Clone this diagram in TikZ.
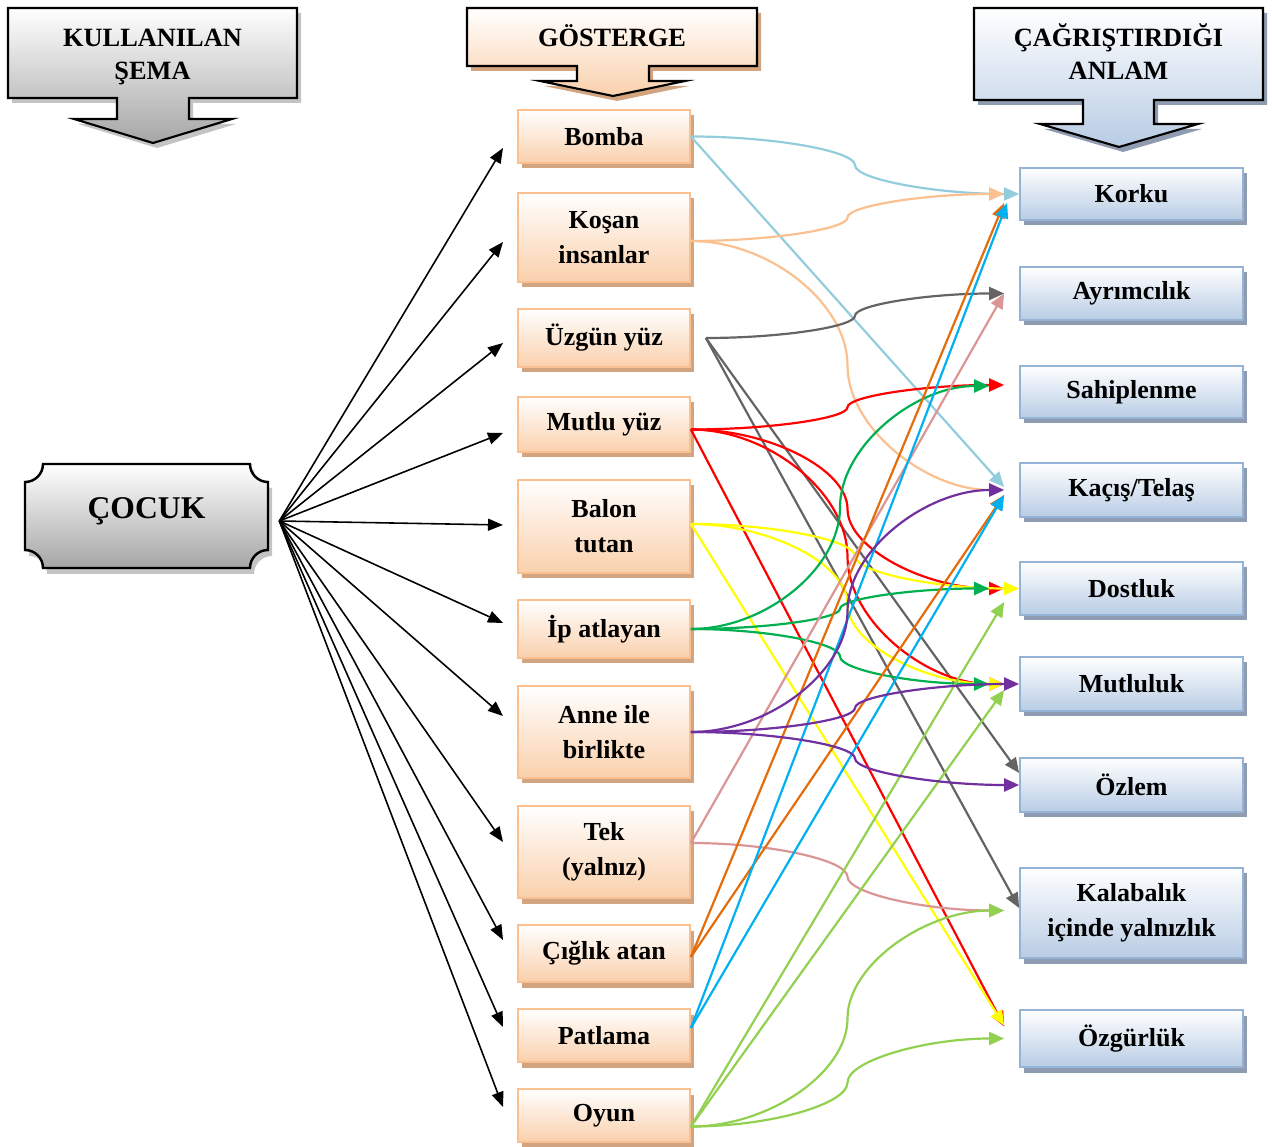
\documentclass[tikz,border=0pt]{standalone}
\usepackage{fontspec}
\setmainfont{Liberation Serif}
\usetikzlibrary{arrows.meta,calc,shadows}

\definecolor{signline}{HTML}{FAC090}
\definecolor{signfill}{HTML}{FAD0AC}
\definecolor{signshade}{HTML}{D2A47F}
\definecolor{meanline}{HTML}{95B3D7}
\definecolor{meanfill}{HTML}{B8CCE4}
\definecolor{meanshade}{HTML}{8E9BB0}
\definecolor{cocukfill}{HTML}{A6A6A6}
\definecolor{cocukshade}{HTML}{C4C4C4}
\definecolor{clBlue}{HTML}{93CDDD}
\definecolor{clPeach}{HTML}{FAC090}
\definecolor{clGrey}{HTML}{646464}
\definecolor{clRed}{HTML}{FF0000}
\definecolor{clYellow}{HTML}{FFFF00}
\definecolor{clGreen}{HTML}{00B050}
\definecolor{clPurple}{HTML}{7030A0}
\definecolor{clRose}{HTML}{D99694}
\definecolor{clOrange}{HTML}{E46C0A}
\definecolor{clCyan}{HTML}{00B0F0}
\definecolor{clLime}{HTML}{92D050}

\begin{document}
\begin{tikzpicture}[
    sign/.style={draw=signline, line width=1pt, top color=white, bottom color=signfill,
      drop shadow={shadow xshift=0.07cm, shadow yshift=-0.11cm, fill=signshade, opacity=1},
      minimum width=3.44cm, inner sep=0pt, align=center,
      font=\bfseries\fontsize{14.8}{19.8}\selectfont},
    mean/.style={draw=meanline, line width=1pt, top color=white, bottom color=meanfill,
      drop shadow={shadow xshift=0.07cm, shadow yshift=-0.11cm, fill=meanshade, opacity=1},
      minimum width=4.46cm, inner sep=0pt, align=center,
      font=\bfseries\fontsize{14.8}{19.8}\selectfont},
    head/.style={align=center, inner sep=0pt, font=\bfseries\fontsize{15}{18.7}\selectfont},
    blk/.style={line width=0.9pt, -{Triangle[length=0.3cm, width=0.24cm]}},
    lnk/.style={line width=1.25pt, -{Triangle[length=0.3cm, width=0.26cm]}},
    bend3/.style={to path={let \p1=(\tikztostart), \p2=(\tikztotarget) in
      .. controls ({0.75*\x1+0.25*\x2},\y1) and ({0.5*\x1+0.5*\x2},{0.75*\y1+0.25*\y2})
      .. ({0.5*\x1+0.5*\x2},{0.5*\y1+0.5*\y2})
      .. controls ({0.5*\x1+0.5*\x2},{0.25*\y1+0.75*\y2}) and ({0.25*\x1+0.75*\x2},\y2)
      .. (\p2)}}
  ]
\useasboundingbox (0,0) rectangle (25.44,22.92);

% headers
\path[draw, line width=1.2pt, top color=white, bottom color=cocukfill,
  drop shadow={shadow xshift=0.08cm, shadow yshift=-0.1cm, fill=cocukshade, opacity=1}]
  (0.16,22.76) -- (5.94,22.76) -- (5.94,20.96) -- (3.78,20.96) -- (3.78,20.54)
  -- (4.64,20.54) -- (3.06,20.06) -- (1.48,20.54) -- (2.34,20.54) -- (2.34,20.96)
  -- (0.16,20.96) -- cycle; % schema arrow
\node[head] (schema) at (3.05,21.78) {KULLANILAN\\ŞEMA};
\path[draw, line width=1.2pt, top color=white, bottom color=signfill,
  drop shadow={shadow xshift=0.08cm, shadow yshift=-0.1cm, fill=signshade, opacity=1}]
  (9.34,22.76) -- (15.14,22.76) -- (15.14,21.6) -- (12.98,21.6) -- (12.98,21.3)
  -- (13.7,21.3) -- (12.26,21.0) -- (10.8,21.3) -- (11.54,21.3) -- (11.54,21.6)
  -- (9.34,21.6) -- cycle; % sign arrow
\node[head] (gosterge) at (12.24,22.2) {GÖSTERGE};
\path[draw, line width=1.2pt, top color=white, bottom color=meanfill,
  drop shadow={shadow xshift=0.08cm, shadow yshift=-0.1cm, fill=meanshade, opacity=1}]
  (19.48,22.76) -- (25.26,22.76) -- (25.26,20.92) -- (23.08,20.92) -- (23.08,20.44)
  -- (23.96,20.44) -- (22.38,19.98) -- (20.8,20.44) -- (21.66,20.44) -- (21.66,20.92)
  -- (19.48,20.92) -- cycle; % meaning arrow
\node[head] (anlam) at (22.37,21.88) {ÇAĞRIŞTIRDIĞI\\ANLAM};

% child plaque
\path[draw, line width=1.4pt, top color=white, bottom color=cocukfill,
  drop shadow={shadow xshift=0.08cm, shadow yshift=-0.12cm, fill=cocukshade, opacity=1}]
  (0.86,13.64) -- (5.0,13.64) arc[start angle=180, end angle=270, radius=0.36]
  -- (5.36,11.92) arc[start angle=90, end angle=180, radius=0.36]
  -- (0.86,11.56) arc[start angle=0, end angle=90, radius=0.36]
  -- (0.5,13.28) arc[start angle=270, end angle=360, radius=0.36] -- cycle; % plaque
\node[minimum width=4.86cm, minimum height=2.08cm, inner sep=0pt,
  font=\bfseries\fontsize{18}{22}\selectfont] (cocuk) at (2.93,12.7) {ÇOCUK};

% signs
\node[sign, minimum height=1.06cm] (bomba) at (12.08,20.19) {Bomba};
\node[sign, minimum height=1.78cm] (kosan) at (12.08,18.17) {Koşan\\insanlar};
\node[sign, minimum height=1.16cm] (uzgun) at (12.08,16.16) {Üzgün yüz};
\node[sign, minimum height=1.1cm] (mutlu) at (12.08,14.43) {Mutlu yüz};
\node[sign, minimum height=1.86cm] (balon) at (12.08,12.39) {Balon\\tutan};
\node[sign, minimum height=1.16cm] (ip) at (12.08,10.34) {İp atlayan};
\node[sign, minimum height=1.84cm] (anne) at (12.08,8.28) {Anne ile\\birlikte};
\node[sign, minimum height=1.84cm] (tek) at (12.08,5.88) {Tek\\(yalnız)};
\node[sign, minimum height=1.14cm] (ciglik) at (12.08,3.85) {Çığlık atan};
\node[sign, minimum height=1.06cm] (patlama) at (12.08,2.21) {Patlama};
\node[sign, minimum height=1.06cm] (oyun) at (12.08,0.61) {Oyun};

% meanings
\node[mean, minimum height=1.04cm] (korku) at (22.63,19.04) {Korku};
\node[mean, minimum height=1.06cm] (ayrim) at (22.63,17.05) {Ayrımcılık};
\node[mean, minimum height=1.04cm] (sahip) at (22.63,15.08) {Sahiplenme};
\node[mean, minimum height=1.08cm] (kacis) at (22.63,13.12) {Kaçış/Telaş};
\node[mean, minimum height=1.06cm] (dostluk) at (22.63,11.15) {Dostluk};
\node[mean, minimum height=1.08cm] (mutluluk) at (22.63,9.24) {Mutluluk};
\node[mean, minimum height=1.08cm] (ozlem) at (22.63,7.22) {Özlem};
\node[mean, minimum height=1.8cm] (kalabalik) at (22.63,4.66) {Kalabalık\\içinde yalnızlık};
\node[mean, minimum height=1.14cm] (ozgurluk) at (22.63,2.15) {Özgürlük};

% child to signs
\coordinate (hub) at ($(cocuk.east)+(0.22,-0.2)$);
\foreach \n/\y in {bomba/19.96, kosan/18.08, uzgun/16.06, mutlu/14.26, balon/12.42,
    ip/10.46, anne/8.6, tek/6.08, ciglik/4.12, patlama/2.38, oyun/0.78}
  {\coordinate (in-\n) at (10.06,\y); \draw[blk] (hub) -- (in-\n);}

% signs to meanings
\draw[lnk, clBlue] (bomba.east) to[bend3] (korku.west); % bomba-korku
\draw[lnk, clBlue] (bomba.east) -- ([xshift=-3mm, yshift=0.6mm]kacis.west); % bomba-kacis
\draw[lnk, clPeach] ([yshift=-0.7mm]kosan.east) to[bend3] ([xshift=-3mm]korku.west); % kosan-korku
\draw[lnk, clPeach] ([yshift=-0.7mm]kosan.east) to[bend3] ([xshift=-3mm]kacis.west); % kosan-kacis
\draw[lnk, clGrey] ([xshift=3mm]uzgun.east) to[bend3] ([xshift=-3mm]ayrim.west); % uzgun-ayrim
\draw[lnk, clGrey] ([xshift=3mm]uzgun.east) -- ([yshift=2.4mm]ozlem.west); % uzgun-ozlem
\draw[lnk, clGrey] ([xshift=3mm]uzgun.east) -- ([yshift=1mm]kalabalik.west); % uzgun-kalabalik
\draw[lnk, clRed] ([yshift=-1mm]mutlu.east) to[bend3] ([xshift=-3mm, yshift=1.4mm]sahip.west); % mutlu-sahip
\draw[lnk, clRed] ([yshift=-1mm]mutlu.east) to[bend3] ([xshift=-3mm]dostluk.west); % mutlu-dostluk
\draw[lnk, clRed] ([yshift=-1mm]mutlu.east) to[bend3] ([xshift=-3mm]mutluluk.west); % mutlu-mutluluk
\draw[lnk, clRed] ([yshift=-1mm]mutlu.east) -- ([xshift=-3mm, yshift=2.4mm]ozgurluk.west); % mutlu-ozgurluk
\draw[lnk, clYellow] ([yshift=0.5mm]balon.east) to[bend3] (dostluk.west); % balon-dostluk
\draw[lnk, clYellow] ([yshift=0.5mm]balon.east) to[bend3] ([xshift=-3mm]mutluluk.west); % balon-mutluluk
\draw[lnk, clYellow] ([yshift=0.5mm]balon.east) -- ([xshift=-3mm, yshift=2.6mm]ozgurluk.west); % balon-ozgurluk
\draw[lnk, clGreen] (ip.east) to[bend3] ([xshift=-6mm, yshift=1.2mm]sahip.west); % ip-sahip
\draw[lnk, clGreen] (ip.east) to[bend3] ([xshift=-6mm]dostluk.west); % ip-dostluk
\draw[lnk, clGreen] (ip.east) to[bend3] ([xshift=-6mm]mutluluk.west); % ip-mutluluk
\draw[lnk, clRose] ([yshift=1.8mm]tek.east) -- ([xshift=-3mm]ayrim.west); % tek-ayrim
\draw[lnk, clRose] ([yshift=1.8mm]tek.east) to[bend3] ([xshift=-3mm, yshift=0.5mm]kalabalik.west); % tek-kalabalik
\draw[lnk, clOrange] ([yshift=-0.7mm]ciglik.east) -- ([xshift=-3mm, yshift=-1.8mm]korku.west); % ciglik-korku
\draw[lnk, clOrange] ([yshift=-0.7mm]ciglik.east) -- ([xshift=-3mm, yshift=-1mm]kacis.west); % ciglik-kacis
\draw[lnk, clCyan] ([yshift=1.5mm]patlama.east) -- ([xshift=-2.4mm, yshift=-1.8mm]korku.west); % patlama-korku
\draw[lnk, clCyan] ([yshift=1.5mm]patlama.east) -- ([xshift=-3mm, yshift=-1mm]kacis.west); % patlama-kacis
\draw[lnk, clLime] ([yshift=-2.2mm]oyun.east) -- ([xshift=-3mm, yshift=-2.7mm]dostluk.west); % oyun-dostluk
\draw[lnk, clLime] ([yshift=-2.2mm]oyun.east) -- ([xshift=-3mm, yshift=-1.2mm]mutluluk.west); % oyun-mutluluk
\draw[lnk, clLime] ([yshift=-2.2mm]oyun.east) to[bend3] ([xshift=-3mm, yshift=0.5mm]kalabalik.west); % oyun-kalabalik
\draw[lnk, clLime] ([yshift=-2.2mm]oyun.east) to[bend3] ([xshift=-3mm]ozgurluk.west); % oyun-ozgurluk
\draw[lnk, clPurple] (anne.east) to[bend3] ([xshift=-3mm]kacis.west); % anne-kacis
\draw[lnk, clPurple] (anne.east) to[bend3] (mutluluk.west); % anne-mutluluk
\draw[lnk, clPurple] (anne.east) to[bend3] (ozlem.west); % anne-ozlem
\end{tikzpicture}
\end{document}
